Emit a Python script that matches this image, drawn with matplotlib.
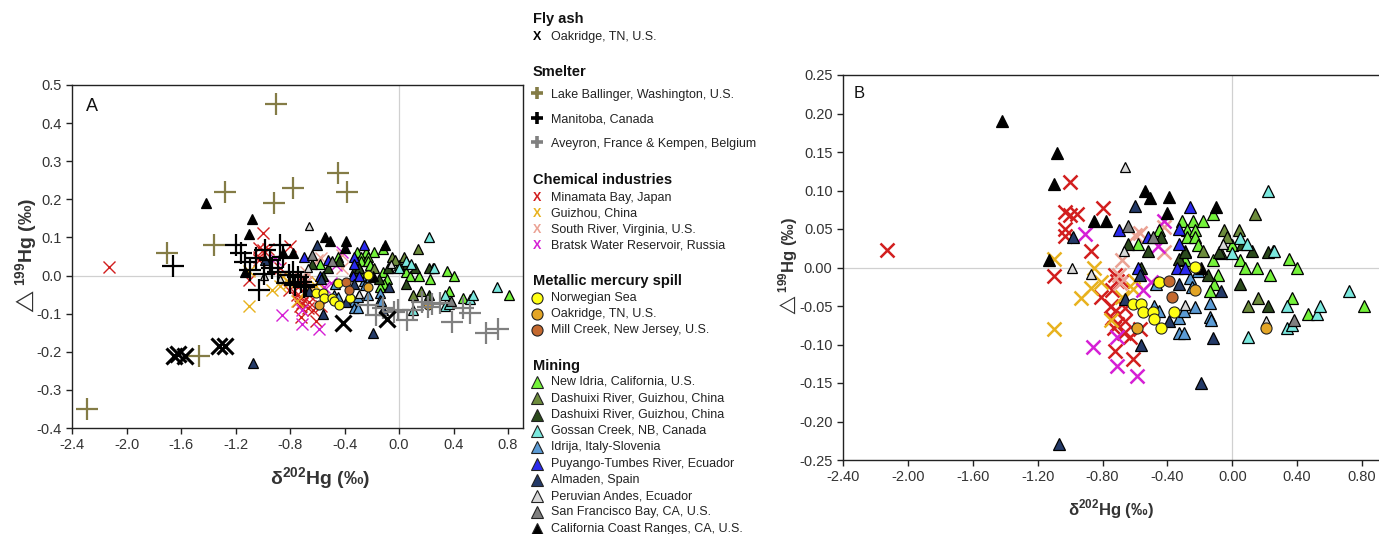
import matplotlib

matplotlib.use("Agg")
import matplotlib.pyplot as plt
from matplotlib.lines import Line2D

plt.rcParams["font.family"] = ["Liberation Sans", "DejaVu Sans"]
plt.rcParams["axes.unicode_minus"] = False
plt.rcParams["mathtext.fontset"] = "custom"
plt.rcParams["mathtext.rm"] = "Liberation Sans"
plt.rcParams["mathtext.bf"] = "Liberation Sans:bold"
plt.rcParams["mathtext.fallback"] = "stixsans"

W, H = 1379, 534

# ---- data (d202Hg, D199Hg) ----
flyash_x = [-1.65, -1.62, -1.57, -1.32, -1.28, -0.41, -0.09]
flyash_y = [-0.210, -0.205, -0.210, -0.185, -0.185, -0.125, -0.115]

ballinger_x = [-0.90, -1.28, -0.92, -0.78, -0.45, -0.38, -1.70, -1.36, -1.47, -2.29]
ballinger_y = [0.450, 0.220, 0.190, 0.230, 0.270, 0.220, 0.060, 0.080, -0.210, -0.350]

manitoba_x = [-1.66, -1.20, -1.16, -1.13, -1.09, -1.03, -0.98, -0.95, -0.87, -0.85, -0.89,
              -0.81, -0.78, -0.74, -0.72, -0.68, -1.05, -0.99, -0.80, -0.76, -0.70, -0.93]
manitoba_y = [0.025, 0.080, 0.058, 0.036, 0.015, -0.038, 0.067, 0.041, 0.080, 0.050, 0.010,
              0.001, 0.010, -0.003, -0.016, -0.025, 0.045, 0.005, -0.020, -0.025, -0.030, 0.020]

aveyron_x = [-0.23, -0.12, -0.01, 0.06, 0.10, 0.17, 0.21, 0.30, 0.39, 0.47, 0.52, 0.64, 0.73,
             -0.17, -0.04, 0.24]
aveyron_y = [-0.077, -0.086, -0.090, -0.117, -0.090, -0.069, -0.082, -0.073, -0.121, -0.086,
             -0.099, -0.152, -0.139, -0.104, -0.095, -0.075]

minamata_x = [-2.13, -1.00, -1.03, -1.00, -0.96, -0.80, -1.03, -1.03, -0.87, -1.10, -0.81, -0.72,
              -0.71, -0.68, -0.74, -0.75, -0.72, -0.66, -0.74, -0.71, -0.66, -0.73, -0.67, -0.63,
              -0.57, -0.72, -0.61]
minamata_y = [0.023, 0.111, 0.072, 0.068, 0.070, 0.077, 0.050, 0.041, 0.021, -0.011, -0.038, -0.010,
              -0.018, -0.018, -0.029, -0.050, -0.057, -0.052, -0.066, -0.073, -0.069, -0.079, -0.085,
              -0.090, -0.080, -0.109, -0.119]

guizhou_x = [-1.10, -1.10, -0.93, -0.85, -0.87, -0.81, -0.61, -0.60, -0.68, -0.75]
guizhou_y = [0.011, -0.080, -0.039, 0.000, -0.027, -0.019, -0.028, -0.018, -0.038, -0.068]

southriver_x = [-0.60, -0.57, -0.42, -0.42, -0.68, -0.70, -0.69]
southriver_y = [0.042, 0.045, 0.053, 0.020, 0.010, -0.010, -0.020]

bratsk_x = [-0.91, -0.86, -0.71, -0.59, -0.71, -0.55, -0.50, -0.46, -0.42]
bratsk_y = [0.043, -0.103, -0.128, -0.141, -0.090, -0.029, -0.019, 0.028, 0.061]

norwegian_x = [-0.61, -0.56, -0.55, -0.49, -0.48, -0.44, -0.36, -0.45, -0.23]
norwegian_y = [-0.047, -0.047, -0.058, -0.058, -0.067, -0.078, -0.058, -0.019, 0.001]

oakspill_x = [-0.23, 0.21, -0.59]
oakspill_y = [-0.029, -0.078, -0.078]

millcreek_x = [-0.39, -0.37]
millcreek_y = [-0.018, -0.038]

newidria_x = [-0.58, -0.45, -0.31, -0.24, -0.18, -0.12, -0.28, -0.23, -0.28, -0.23, -0.21, -0.12,
              -0.09, -0.11, -0.14, 0.00, 0.05, 0.08, 0.15, 0.23, 0.25, 0.35, 0.40, 0.37, 0.47,
              0.81, -0.29]
newidria_y = [0.030, 0.049, 0.061, 0.061, 0.061, 0.070, 0.049, 0.049, 0.039, 0.039, 0.029, 0.010,
              -0.010, -0.021, -0.031, 0.029, 0.010, 0.000, 0.000, -0.010, 0.021, 0.011, 0.000,
              -0.040, -0.060, -0.050, 0.010]

dashuixi1_x = [0.14, -0.05, 0.04, -0.03, -0.29, -0.18, -0.07, 0.16, 0.10]
dashuixi1_y = [0.070, 0.049, 0.049, 0.040, 0.021, 0.021, 0.019, -0.040, -0.050]

dashuixi2_x = [-0.64, -0.52, -0.44, -0.33, -0.29, -0.15, -0.08, 0.06, 0.12, 0.05, 0.22, 0.22, -0.56]
dashuixi2_y = [0.030, 0.021, 0.039, 0.011, 0.020, -0.010, 0.020, 0.030, 0.021, -0.021, -0.050,
               0.020, 0.000]

gossan_x = [0.22, 0.05, 0.09, 0.00, 0.10, 0.34, 0.34, 0.52, 0.54, 0.72, 0.26, 0.37]
gossan_y = [0.100, 0.038, 0.031, 0.019, -0.090, -0.079, -0.050, -0.061, -0.050, -0.030, 0.021,
            -0.075]

idrija_x = [-0.47, -0.48, -0.45, -0.33, -0.33, -0.30, -0.30, -0.23, -0.26, -0.14, -0.14, -0.13,
            -0.25, -0.21]
idrija_y = [-0.022, -0.050, -0.056, -0.066, -0.085, -0.085, -0.056, -0.051, -0.014, -0.046,
            -0.064, -0.068, -0.025, -0.004]

puyango_x = [-0.70, -0.52, -0.33, -0.26, -0.33, -0.34, -0.29, -0.58]
puyango_y = [0.049, 0.040, 0.050, 0.079, 0.030, 0.000, 0.000, 0.000]

almaden_x = [-1.07, -0.98, -0.60, -0.66, -0.56, -0.57, -0.39, -0.33, -0.19, -0.12, -0.07]
almaden_y = [-0.229, 0.040, 0.080, -0.041, -0.100, -0.010, -0.070, -0.021, -0.150, -0.091, -0.030]

peru_x = [-0.66, -0.99, -0.87, -0.67, -0.06, -0.29, 0.21]
peru_y = [0.130, 0.000, -0.009, 0.021, 0.031, -0.049, -0.070]

sfbay_x = [-0.64, -0.49, 0.38]
sfbay_y = [0.054, 0.039, -0.068]

calif_x = [-1.42, -1.08, -1.10, -1.13, -0.85, -0.78, -0.54, -0.51, -0.39, -0.40, -0.10, -0.19]
calif_y = [0.190, 0.149, 0.109, 0.010, 0.060, 0.060, 0.100, 0.090, 0.091, 0.071, 0.079, 0.000]

# (label, colour, x, y)
MINING = [
    ("New Idria, California, U.S.", "#74f23a", newidria_x, newidria_y),
    ("Dashuixi River, Guizhou, China", "#6d8c3c", dashuixi1_x, dashuixi1_y),
    ("Dashuixi River, Guizhou, China", "#2b4a1c", dashuixi2_x, dashuixi2_y),
    ("Gossan Creek, NB, Canada", "#7ae8de", gossan_x, gossan_y),
    ("Idrija, Italy-Slovenia", "#5b9bd5", idrija_x, idrija_y),
    ("Puyango-Tumbes River, Ecuador", "#2a2aee", puyango_x, puyango_y),
    ("Almaden, Spain", "#243a68", almaden_x, almaden_y),
    ("Peruvian Andes, Ecuador", "#d8d8d8", peru_x, peru_y),
    ("San Francisco Bay, CA, U.S.", "#7f7f7f", sfbay_x, sfbay_y),
    ("California Coast Ranges, CA, U.S.", "#000000", calif_x, calif_y),
]
SPILL = [
    ("Norwegian Sea", "#ffff14", norwegian_x, norwegian_y),
    ("Oakridge, TN, U.S.", "#e3a526", oakspill_x, oakspill_y),
    ("Mill Creek, New Jersey, U.S.", "#c4692f", millcreek_x, millcreek_y),
]
CHEM = [
    ("Minamata Bay, Japan", "#d21e1e", minamata_x, minamata_y),
    ("Guizhou, China", "#e8b21e", guizhou_x, guizhou_y),
    ("South River, Virginia, U.S.", "#eba294", southriver_x, southriver_y),
    ("Bratsk Water Reservoir, Russia", "#d51fd5", bratsk_x, bratsk_y),
]
SMELTER = [
    ("Lake Ballinger, Washington, U.S.", "#847c46", ballinger_x, ballinger_y),
    ("Manitoba, Canada", "#000000", manitoba_x, manitoba_y),
    ("Aveyron, France & Kempen, Belgium", "#808080", aveyron_x, aveyron_y),
]
FLYASH = [("Oakridge, TN, U.S.", "#000000", flyash_x, flyash_y)]

TXT = "#333333"
XLAB = r"δ$^{\mathbf{202}}$Hg (‰)"
YLAB = r"$\triangle^{\mathbf{199}}$Hg (‰)"


def draw_panel(ax, big):
    tri = 9 if big else 7.8
    circ = 8 if big else 6.5
    xs = 10 if big else 8
    xlw = 1.8 if big else 1.0
    for label, color, x, y in MINING:
        ms = tri * 0.8 if label.startswith("Peruvian") else tri
        ax.plot(x, y, ls="none", marker="^", ms=ms, mfc=color, mec="black", mew=0.9, zorder=3)
    for label, color, x, y in SPILL:
        ax.plot(x, y, ls="none", marker="o", ms=circ, mfc=color, mec="#222222", mew=0.8, zorder=3)
    for label, color, x, y in CHEM:
        ax.plot(x, y, ls="none", marker="x", ms=xs, mec=color, mew=xlw, zorder=2)
    if not big:
        for label, color, x, y in SMELTER:
            ax.plot(x, y, ls="none", marker="+", ms=16, mec=color, mew=1.6, zorder=4)
        for label, color, x, y in FLYASH:
            ax.plot(x, y, ls="none", marker="x", ms=12, mec=color, mew=2.2, zorder=4)
    ax.axhline(0, color="#d0d0d0", lw=0.9, zorder=1)
    ax.axvline(0, color="#d0d0d0", lw=0.9, zorder=1)
    for sp in ax.spines.values():
        sp.set_color("#222222")
        sp.set_linewidth(1.0)
    ax.tick_params(direction="out", length=4, width=1, colors="#222222", labelcolor=TXT,
                   labelsize=10.5)


fig = plt.figure(figsize=(W / 100, H / 100), dpi=100)

# Panel A
axA = fig.add_axes([72 / W, 1 - 428 / H, (523 - 72) / W, (428 - 85) / H])
draw_panel(axA, big=False)
axA.set_xlim(-2.4, 0.91)
axA.set_ylim(-0.4, 0.5)
axA.set_xticks([-2.4, -2.0, -1.6, -1.2, -0.8, -0.4, 0.0, 0.4, 0.8])
axA.set_xticklabels(["%.1f" % v for v in axA.get_xticks()])
axA.set_yticks([-0.4, -0.3, -0.2, -0.1, 0.0, 0.1, 0.2, 0.3, 0.4, 0.5])
axA.set_yticklabels(["%.1f" % v for v in axA.get_yticks()])
axA.set_xlabel(XLAB, fontsize=14, fontweight="bold", color=TXT)
axA.xaxis.set_label_coords(0.55, -0.11)
axA.set_ylabel(YLAB, fontsize=14, fontweight="bold", color=TXT)
axA.yaxis.set_label_coords(-0.07, 0.5)
axA.text(0.03, 0.925, "A", transform=axA.transAxes, fontsize=13, color="#111111")

# Panel B
axB = fig.add_axes([843 / W, 1 - 460 / H, (W - 843) / W, (460 - 75) / H])
draw_panel(axB, big=True)
axB.set_xlim(-2.4, 0.8 + (W - 1362) / 162.2)
axB.set_ylim(-0.25, 0.25)
axB.set_xticks([-2.4, -2.0, -1.6, -1.2, -0.8, -0.4, 0.0, 0.4, 0.8])
axB.set_xticklabels(["%.2f" % v for v in axB.get_xticks()])
axB.set_yticks([-0.25, -0.2, -0.15, -0.1, -0.05, 0.0, 0.05, 0.1, 0.15, 0.2, 0.25])
axB.set_yticklabels(["%.2f" % v for v in axB.get_yticks()])
axB.spines["right"].set_visible(False)
axB.set_xlabel(XLAB, fontsize=12, fontweight="bold", color=TXT)
axB.xaxis.set_label_coords(0.5, -0.096)
axB.set_ylabel(YLAB, fontsize=12, fontweight="bold", color=TXT)
axB.yaxis.set_label_coords(-0.08, 0.5)
axB.text(0.02, 0.94, "B", transform=axB.transAxes, fontsize=12, color="#111111")

# Legend column (layout in pixels)
groups = [
    ("Fly ash", FLYASH, "X", 19, 37, 16),
    ("Smelter", SMELTER, "+", 72, 95, 24.5),
    ("Chemical industries", CHEM, "X", 180, 198, 16),
    ("Metallic mercury spill", SPILL, "o", 281, 298, 16),
    ("Mining", MINING, "^", 366, 382, 16.3),
]
mx, tx, hx = 537, 551, 533


def fx(px):
    return px / W


def fy(py):
    return 1 - py / H


for title, items, kind, hy, y0, dy in groups:
    fig.text(fx(hx), fy(hy), title, fontsize=10.5, fontweight="bold", color="#111111", va="center")
    for i, (label, color, _, _) in enumerate(items):
        yy = y0 + i * dy
        if kind == "X":
            fig.text(fx(mx), fy(yy), "X", fontsize=9, fontweight="bold", color=color,
                     ha="center", va="center")
        elif kind == "+":
            fig.add_artist(Line2D([fx(mx)], [fy(yy - 2)], transform=fig.transFigure, marker="+",
                                  ms=9, mew=2.6, mec=color, ls="none"))
        elif kind == "o":
            fig.add_artist(Line2D([fx(mx)], [fy(yy)], transform=fig.transFigure, marker="o",
                                  ms=8, mfc=color, mec="#222222", mew=0.8, ls="none"))
        else:
            fig.add_artist(Line2D([fx(mx)], [fy(yy)], transform=fig.transFigure, marker="^",
                                  ms=8, mfc=color, mec="#222222", mew=0.8, ls="none"))
        fig.text(fx(tx), fy(yy), label, fontsize=9, color="#222222", va="center")

fig.savefig("out.png", dpi=100)
